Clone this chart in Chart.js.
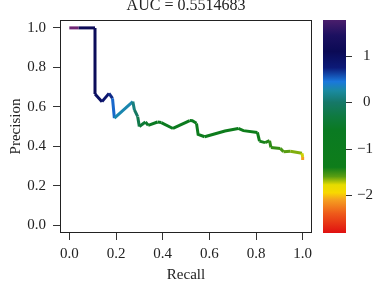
<!DOCTYPE html>
<html>
<head>
<meta charset="utf-8">
<script src="https://cdn.jsdelivr.net/npm/chart.js@4"></script>
<style>
  html, body { margin: 0; padding: 0; background: #fff; }
  #wrap { width: 379px; height: 281px; }
</style>
</head>
<body>
<div id="wrap"><canvas id="prChart"></canvas></div>
<script>
const titleText = 'AUC = 0.5514683';
const recall = [0, 0.04, 0.11, 0.11, 0.14, 0.17, 0.185, 0.193, 0.272, 0.279, 0.293, 0.30, 0.326, 0.338, 0.378, 0.394, 0.444, 0.516, 0.527, 0.545, 0.552, 0.58, 0.667, 0.724, 0.746, 0.806, 0.815, 0.839, 0.858, 0.864, 0.904, 0.918, 0.947, 0.997, 1.0, 1.0];
const precision = [1.0, 1.0, 1.0, 0.665, 0.626, 0.668, 0.643, 0.542, 0.626, 0.584, 0.55, 0.5, 0.523, 0.506, 0.523, 0.52, 0.49, 0.53, 0.529, 0.516, 0.46, 0.448, 0.477, 0.49, 0.479, 0.47, 0.426, 0.418, 0.428, 0.394, 0.389, 0.372, 0.374, 0.364, 0.345, 0.33];
const scores = [1.85, 1.15, 1.05, 0.95, 0.85, 0.7, 0.5, 0.3, 0.1, -0.05, -0.2, -0.4, -0.5, -0.6, -0.7, -0.8, -0.9, -1.0, -1.05, -1.1, -1.15, -1.2, -1.25, -1.3, -1.35, -1.4, -1.42, -1.45, -1.48, -1.5, -1.55, -1.6, -1.65, -1.75, -2.1, -2.7];
const axisTicks = [0, 0.2, 0.4, 0.6, 0.8, 1.0];
const colorbarTicks = [1, 0, -1, -2];
const colorbarMin = -2.82, colorbarMax = 1.78;
// colour scale stops, top to bottom
const paletteValues = [1.9, 1.78, 1.45, 1.1, 0.75, 0.45, 0.25, 0.0, -0.3, -0.6, -1.4, -1.6, -1.78, -1.95, -2.1, -2.4, -2.82];
const paletteColors = ['#8a2a7a', '#4a1e6c', '#1c1060', '#0b0a55', '#0c1a78', '#1a78dc', '#1a8aa0', '#167868', '#0f7a40', '#0a7a22', '#0e7d1a', '#5a9e12', '#e6dc00', '#f8d800', '#f5a020', '#ee5a1a', '#e01010'];

const FONT = '"Liberation Serif", "DejaVu Serif", serif';

function hexRgb(h) {
  return [parseInt(h.slice(1, 3), 16), parseInt(h.slice(3, 5), 16), parseInt(h.slice(5, 7), 16)];
}
function colorAt(v) {
  if (v >= paletteValues[0]) return paletteColors[0];
  for (let i = 0; i < paletteValues.length - 1; i++) {
    const a = paletteValues[i], b = paletteValues[i + 1];
    if (v <= a && v >= b) {
      const t = (a - v) / (a - b);
      const c0 = hexRgb(paletteColors[i]), c1 = hexRgb(paletteColors[i + 1]);
      const c = c0.map((x, k) => Math.round(x + (c1[k] - x) * t));
      return 'rgb(' + c.join(',') + ')';
    }
  }
  return paletteColors[paletteColors.length - 1];
}

const points = recall.map((r, i) => ({ x: r, y: precision[i] }));

const decor = {
  id: 'decor',
  afterDraw(chart) {
    const ctx = chart.ctx, a = chart.chartArea, cb = chart.scales.cb;
    ctx.save();
    // plot box
    ctx.strokeStyle = '#222';
    ctx.lineWidth = 1;
    ctx.strokeRect(a.left + 0.5, a.top + 0.5, a.right - a.left - 1, a.bottom - a.top - 1);
    // colour bar (top stop value only used for the curve start)
    const x0 = 323, w = 23;
    const top = cb.getPixelForValue(colorbarMax), bot = cb.getPixelForValue(colorbarMin);
    const g = ctx.createLinearGradient(0, top, 0, bot);
    paletteValues.forEach((v, i) => {
      if (v > colorbarMax) return;
      g.addColorStop((colorbarMax - v) / (colorbarMax - colorbarMin), paletteColors[i]);
    });
    ctx.fillStyle = g;
    ctx.fillRect(x0, top, w, bot - top);
    ctx.strokeStyle = '#333';
    ctx.fillStyle = '#222';
    ctx.font = '15px ' + FONT;
    ctx.textBaseline = 'middle';
    ctx.textAlign = 'left';
    colorbarTicks.forEach(v => {
      const y = Math.round(cb.getPixelForValue(v)) + 0.5;
      ctx.beginPath();
      ctx.moveTo(x0 + w, y);
      ctx.lineTo(x0 + w + 6, y);
      ctx.stroke();
      ctx.fillText(v < 0 ? '\u2212' + Math.abs(v) : String(v), v < 0 ? 357 : 363, y);
    });
    // titles
    ctx.textAlign = 'center';
    ctx.textBaseline = 'alphabetic';
    ctx.font = '16px ' + FONT;
    ctx.fillText(titleText, (a.left + a.right) / 2, 9.5);
    ctx.font = '15px ' + FONT;
    ctx.fillText('Recall', (a.left + a.right) / 2, 279);
    ctx.translate(20, (a.top + a.bottom) / 2);
    ctx.rotate(-Math.PI / 2);
    ctx.fillText('Precision', 0, 0);
    ctx.restore();
  }
};

const tickStyle = {
  color: '#222',
  font: { family: FONT, size: 15 },
  padding: 5,
  callback: v => Number(v).toFixed(1)
};

new Chart(document.getElementById('prChart'), {
  type: 'line',
  data: {
    datasets: [{
      data: points,
      borderWidth: 3,
      pointRadius: 0,
      tension: 0,
      fill: false,
      borderColor: '#0a7a22',
      segment: {
        borderColor: c => colorAt(scores[c.p0DataIndex])
      }
    }]
  },
  options: {
    responsive: true,
    maintainAspectRatio: false,
    animation: false,
    layout: { padding: { top: 20, right: 67, left: 0, bottom: 0 } },
    plugins: { legend: { display: false }, tooltip: { enabled: false } },
    scales: {
      x: {
        type: 'linear',
        min: -0.04, max: 1.04,
        afterBuildTicks: s => { s.ticks = axisTicks.map(v => ({ value: v })); },
        afterFit: s => { s.height = 48; },
        grid: { drawOnChartArea: false, tickLength: 7, color: '#333' },
        border: { display: false },
        ticks: Object.assign({}, tickStyle, { maxRotation: 0 })
      },
      y: {
        type: 'linear',
        min: -0.04, max: 1.04,
        afterBuildTicks: s => { s.ticks = axisTicks.map(v => ({ value: v })); },
        afterFit: s => { s.width = 60; },
        grid: { drawOnChartArea: false, tickLength: 7, color: '#333' },
        border: { display: false },
        ticks: Object.assign({}, tickStyle, { padding: 7 })
      },
      cb: {
        type: 'linear',
        position: 'right',
        display: false,
        min: colorbarMin, max: colorbarMax
      }
    }
  },
  plugins: [decor]
});
</script>
</body>
</html>
